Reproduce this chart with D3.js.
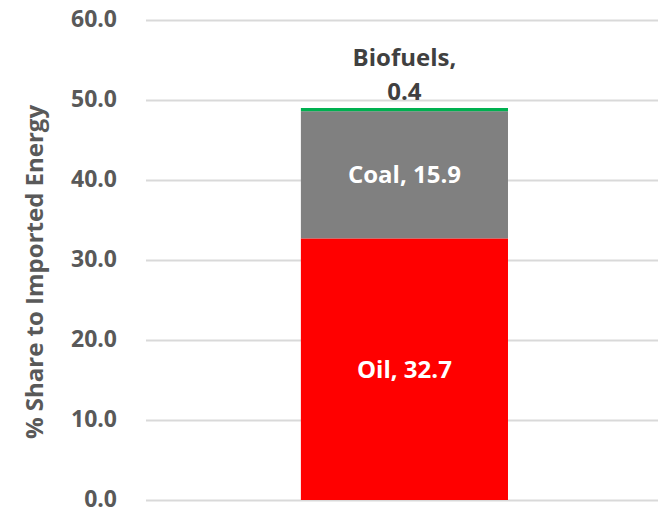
<!DOCTYPE html>
<html>
<head>
<meta charset="utf-8">
<script src="https://cdn.jsdelivr.net/npm/d3@7"></script>
<style>
  body { margin: 0; background: #fff; }
  svg text { font-family: "Open Sans", "Noto Sans", sans-serif; font-weight: 700; }
</style>
</head>
<body>
<div id="chart"></div>
<script>
"use strict"

const categories = ["Imports"];
const seriesNames = ["Oil", "Coal", "Biofuels"];
const seriesValues = [32.7, 15.9, 0.4];
const seriesColors = ["#ff0000", "#808080", "#00b050"];
const yTicks = [0, 10, 20, 30, 40, 50, 60];

let margin = {top: 20, right: 0, bottom: 12, left: 146};
let width = 658 - margin.left - margin.right,
    height = 512 - margin.top - margin.bottom;

let svg = d3.select("#chart")
  .append("svg")
  .attr("width", width + margin.left + margin.right)
  .attr("height", height + margin.top + margin.bottom)
  .append("g")
  .attr("transform", "translate(" + margin.left + "," + margin.top + ")");

let x = d3.scaleBand()
  .domain(categories)
  .range([0, width])
  .padding(0.424)
  .align(0.508);

let y = d3.scaleLinear()
  .domain([0, 60])
  .range([480, 0]);

// gridlines + tick labels
let yAxis = svg.append("g")
  .call(d3.axisLeft(y).tickValues(yTicks).tickSize(-width).tickFormat(d3.format(".1f")));
yAxis.select(".domain").remove();
yAxis.selectAll(".tick line")
  .attr("stroke", "#d9d9d9")
  .attr("stroke-width", 2);
yAxis.selectAll(".tick text")
  .attr("x", -29)
  .attr("dy", "0.3em")
  .attr("fill", "#595959")
  .style("font-size", "23px");

// stack the single bar
let rows = [{}];
seriesNames.forEach((s, i) => rows[0][s] = seriesValues[i]);
rows[0].cat = categories[0];
let stacked = d3.stack().keys(seriesNames)(rows);

svg.selectAll(".layer")
  .data(stacked)
  .enter()
  .append("rect")
  .attr("class", "layer")
  .attr("x", x(categories[0]))
  .attr("width", x.bandwidth())
  .attr("y", d => y(d[0][1]))
  .attr("height", d => y(d[0][0]) - y(d[0][1]))
  .attr("fill", (d, i) => seriesColors[i]);

let cx = x(categories[0]) + x.bandwidth() / 2;

// inside labels
[0, 1].forEach(i => {
  let s = stacked[i][0];
  svg.append("text")
    .attr("x", cx)
    .attr("y", y((s[0] + s[1]) / 2))
    .attr("dy", "0.35em")
    .attr("text-anchor", "middle")
    .attr("fill", "#ffffff")
    .style("font-size", "24px")
    .text(seriesNames[i] + ", " + seriesValues[i].toFixed(1));
});

// biofuels label above the bar
let bio = svg.append("text")
  .attr("text-anchor", "middle")
  .attr("fill", "#404040")
  .style("font-size", "24px");
bio.append("tspan")
  .attr("x", cx)
  .attr("y", y(stacked[2][0][1]) - 42)
  .text(seriesNames[2] + ",");
bio.append("tspan")
  .attr("x", cx)
  .attr("y", y(stacked[2][0][1]) - 8)
  .text(seriesValues[2].toFixed(1));

// y axis title
svg.append("text")
  .attr("transform", "rotate(-90)")
  .attr("x", -272 + margin.top)
  .attr("y", -103)
  .attr("text-anchor", "middle")
  .attr("fill", "#595959")
  .style("font-size", "24px")
  .text("% Share to Imported Energy");
</script>
</body>
</html>
